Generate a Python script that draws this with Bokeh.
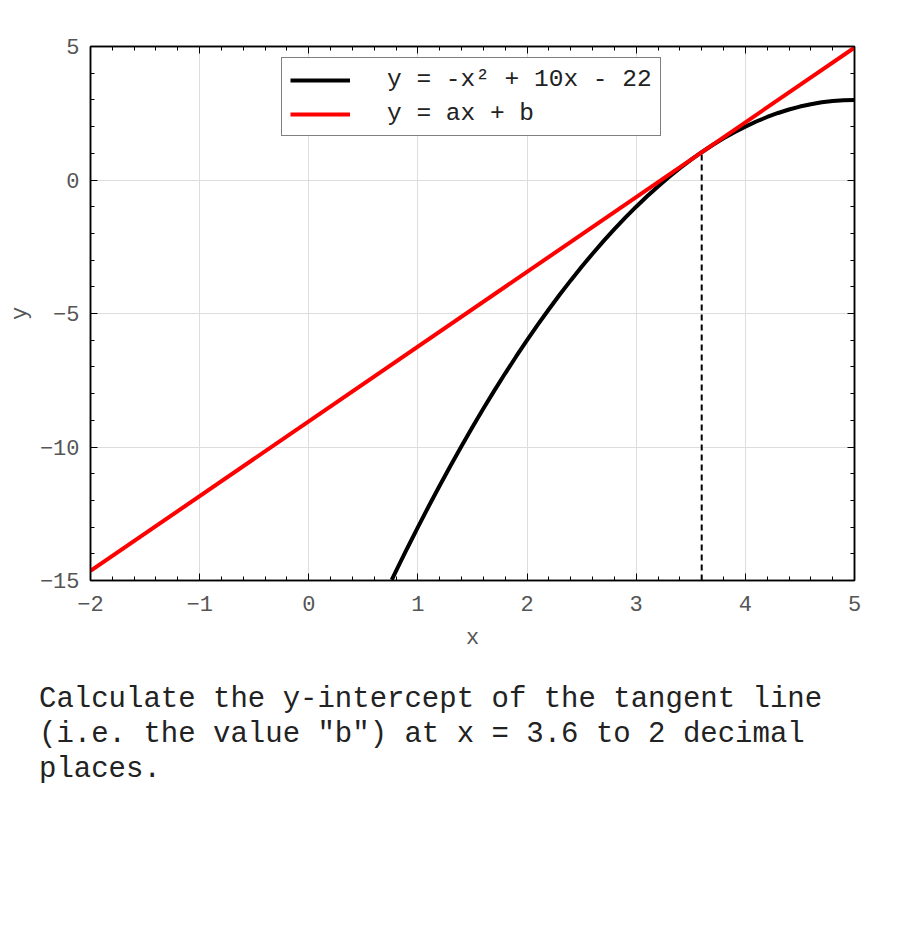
from bokeh.plotting import figure
from bokeh.models import (LinearAxis, Range1d, Div, Legend, LegendItem,
                          SingleIntervalTicker, CustomJSTickFormatter)
from bokeh.layouts import column
from bokeh.embed import file_html
from bokeh.resources import INLINE

# curve y = -x^2 + 10x - 22
curve_x = [0.76, 0.8, 0.9, 1.0, 1.1, 1.2, 1.3, 1.4, 1.5, 1.6, 1.7, 1.8, 1.9, 2.0,
           2.1, 2.2, 2.3, 2.4, 2.5, 2.6, 2.7, 2.8, 2.9, 3.0, 3.1, 3.2, 3.3, 3.4,
           3.5, 3.6, 3.7, 3.8, 3.9, 4.0, 4.1, 4.2, 4.3, 4.4, 4.5, 4.6, 4.7, 4.8,
           4.9, 5.0]
curve_y = [-14.98, -14.64, -13.81, -13.0, -12.21, -11.44, -10.69, -9.96, -9.25,
           -8.56, -7.89, -7.24, -6.61, -6.0, -5.41, -4.84, -4.29, -3.76, -3.25,
           -2.76, -2.29, -1.84, -1.41, -1.0, -0.61, -0.24, 0.11, 0.44, 0.75, 1.04,
           1.31, 1.56, 1.79, 2.0, 2.19, 2.36, 2.51, 2.64, 2.75, 2.84, 2.91, 2.96,
           2.99, 3.0]
# tangent line y = ax + b at x = 3.6
tangent_x = [-2.0, 5.0]
tangent_y = [-14.64, 4.96]
# dashed marker at tangent point
marker_x = [3.6, 3.6]
marker_y = [-15.0, 1.04]

label_curve = "y = -x\u00b2 + 10x - 22"
label_tangent = "y = ax + b"
question = ('Calculate the y-intercept of the tangent line<br>'
            '(i.e. the value "b") at x = 3.6 to 2 decimal<br>'
            'places.')

FONT = "Liberation Mono"
TICK_COLOR = "#555555"

p = figure(width=888, height=668, output_backend="svg", toolbar_location=None,
           x_range=Range1d(-2, 5), y_range=Range1d(-15, 5),
           min_border_left=90, min_border_right=34, min_border_top=46,
           min_border_bottom=88)
p.outline_line_color = "black"
p.outline_line_width = 1.5

p.xaxis.ticker = SingleIntervalTicker(interval=1, num_minor_ticks=5)
p.yaxis.ticker = SingleIntervalTicker(interval=5, num_minor_ticks=5)

for ax in [p.xaxis[0], p.yaxis[0]]:
    ax.major_tick_in = 7
    ax.major_tick_out = 0
    ax.minor_tick_in = 4
    ax.minor_tick_out = 0
    ax.axis_line_color = "black"
    ax.axis_line_width = 1.5
    ax.major_tick_line_color = "black"
    ax.minor_tick_line_color = "black"
    ax.major_label_text_font = FONT
    ax.major_label_text_font_size = "22px"
    ax.major_label_text_color = TICK_COLOR
    ax.axis_label_text_font = FONT
    ax.axis_label_text_font_size = "22px"
    ax.axis_label_text_font_style = "normal"
    ax.axis_label_text_color = TICK_COLOR

p.xaxis.axis_label = "x"
p.yaxis.axis_label = "y"
p.xaxis.major_label_standoff = 15
p.yaxis.major_label_standoff = 11
p.xaxis.axis_label_standoff = 12
p.yaxis.axis_label_standoff = 4

# mirrored axes (ticks only)
blank = CustomJSTickFormatter(code="return ''")
top = LinearAxis(ticker=SingleIntervalTicker(interval=1, num_minor_ticks=5),
                 formatter=blank)
right = LinearAxis(ticker=SingleIntervalTicker(interval=5, num_minor_ticks=5),
                   formatter=blank)
for ax in [top, right]:
    ax.major_tick_in = 7
    ax.major_tick_out = 0
    ax.minor_tick_in = 4
    ax.minor_tick_out = 0
    ax.axis_line_color = "black"
    ax.axis_line_width = 1.5
    ax.major_label_standoff = 0
p.add_layout(top, "above")
p.add_layout(right, "right")

p.xgrid.grid_line_color = "#dddddd"
p.ygrid.grid_line_color = "#dddddd"
p.xgrid.grid_line_width = 1
p.ygrid.grid_line_width = 1

r_curve = p.line(curve_x, curve_y, line_color="black", line_width=4)
p.line(marker_x, marker_y, line_color="black", line_width=2, line_dash="6 4")
r_tan = p.line(tangent_x, tangent_y, line_color="#ff0000", line_width=4)

legend = Legend(items=[LegendItem(label=label_curve, renderers=[r_curve]),
                       LegendItem(label=label_tangent, renderers=[r_tan])],
                location=(191, 444))
legend.label_text_font = FONT
legend.label_text_font_size = "24.5px"
legend.label_text_color = "#222222"
legend.glyph_width = 60
legend.glyph_height = 24
legend.label_height = 24
legend.label_standoff = 37
legend.spacing = 7
legend.padding = 8
legend.margin = 0
legend.border_line_color = "black"
legend.border_line_width = 1
legend.background_fill_alpha = 1
p.add_layout(legend)

div = Div(text=question, width=880,
          styles={"font-family": FONT, "font-size": "29px", "line-height": "35px",
                  "color": "#222222", "padding-left": "34px", "margin-top": "14px",
                  "white-space": "nowrap"})

layout = column(p, div)
open("out.html", "w").write(file_html(layout, INLINE))
